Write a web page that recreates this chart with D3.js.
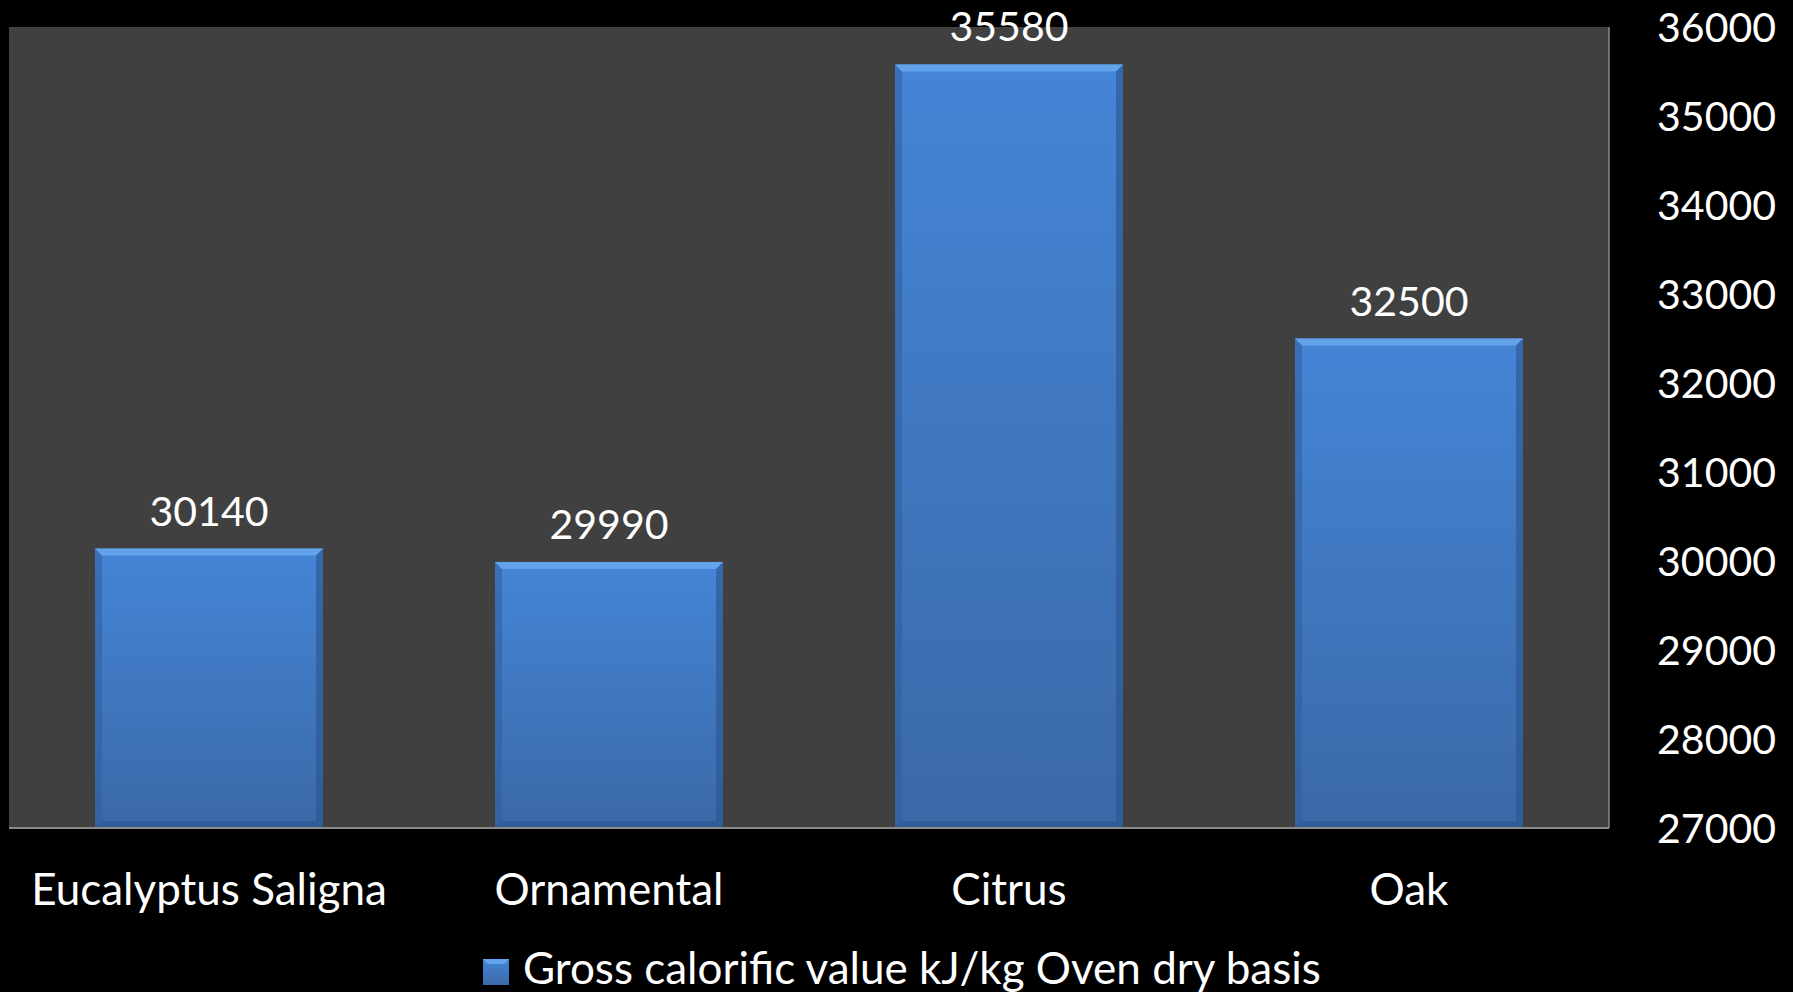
<!DOCTYPE html>
<html>
<head>
<meta charset="utf-8">
<script src="https://cdn.jsdelivr.net/npm/d3@7"></script>
<style>
  html, body { margin: 0; padding: 0; background: #000; }
  svg { display: block; }
  text { font-family: Lato, "Open Sans", sans-serif; fill: #fff; }
</style>
</head>
<body>
<svg id="chart" width="1793" height="992"></svg>
<script>
// Gross calorific value of wood types
const categories = ["Eucalyptus Saligna", "Ornamental", "Citrus", "Oak"];
const values = [30140, 29990, 35580, 32500];
const yTicks = [27000, 28000, 29000, 30000, 31000, 32000, 33000, 34000, 35000, 36000];
const seriesName = "Gross calorific value kJ/kg Oven dry basis";

const plot = { left: 9, top: 27, right: 1609, bottom: 828 };
const numSize = 41;   // numbers: value labels and value axis
const textSize = 44;  // category labels and legend

const svg = d3.select("#chart");

const defs = svg.append("defs");
const grad = defs.append("linearGradient")
  .attr("id", "barFill").attr("x1", 0).attr("y1", 0).attr("x2", 0).attr("y2", 1);
grad.append("stop").attr("offset", "0%").attr("stop-color", "#4585d6");
grad.append("stop").attr("offset", "100%").attr("stop-color", "#3a69a8");

const x = d3.scaleBand()
  .domain(categories)
  .range([plot.left, plot.right])
  .paddingInner(0.43)
  .paddingOuter(0.215);

const y = d3.scaleLinear()
  .domain([27000, 36000])
  .range([plot.bottom, plot.top]);

// plot background
svg.append("rect")
  .attr("x", plot.left).attr("y", plot.top)
  .attr("width", plot.right - plot.left).attr("height", plot.bottom - plot.top)
  .attr("fill", "#404040");

// right border of plot area
svg.append("line")
  .attr("x1", plot.right).attr("x2", plot.right)
  .attr("y1", plot.top).attr("y2", plot.bottom)
  .attr("stroke", "#8a8a8a").attr("stroke-width", 1.5);

// bars with bevelled edges
const bev = 7;
const bars = svg.append("g").selectAll("g")
  .data(categories.map((c, i) => ({ c, v: values[i] })))
  .join("g");

bars.append("rect")
  .attr("x", d => x(d.c))
  .attr("y", d => y(d.v))
  .attr("width", x.bandwidth())
  .attr("height", d => y(27000) - y(d.v))
  .attr("fill", "url(#barFill)");

// left / right darker bevels
bars.append("path")
  .attr("d", d => {
    const x0 = x(d.c), y0 = y(d.v), y1 = y(27000);
    return `M${x0},${y0}L${x0 + bev},${y0 + bev}L${x0 + bev},${y1 - bev}L${x0},${y1}Z`;
  })
  .attr("fill", "#2f5f9e").attr("opacity", 0.55);
bars.append("path")
  .attr("d", d => {
    const x1 = x(d.c) + x.bandwidth(), y0 = y(d.v), y1 = y(27000);
    return `M${x1},${y0}L${x1 - bev},${y0 + bev}L${x1 - bev},${y1 - bev}L${x1},${y1}Z`;
  })
  .attr("fill", "#2a5490").attr("opacity", 0.6);
// bottom bevel
bars.append("path")
  .attr("d", d => {
    const x0 = x(d.c), x1 = x0 + x.bandwidth(), y1 = y(27000);
    return `M${x0},${y1}L${x0 + bev},${y1 - bev}L${x1 - bev},${y1 - bev}L${x1},${y1}Z`;
  })
  .attr("fill", "#2a5490").attr("opacity", 0.6);
// top lighter bevel
bars.append("path")
  .attr("d", d => {
    const x0 = x(d.c), x1 = x0 + x.bandwidth(), y0 = y(d.v);
    return `M${x0},${y0}L${x1},${y0}L${x1 - bev},${y0 + bev}L${x0 + bev},${y0 + bev}Z`;
  })
  .attr("fill", "#62a3ec");

// value labels
bars.append("text")
  .attr("x", d => x(d.c) + x.bandwidth() / 2)
  .attr("y", d => y(d.v) - 23)
  .attr("text-anchor", "middle")
  .attr("font-size", numSize)
  .text(d => d.v);

// bottom axis line
svg.append("line")
  .attr("x1", plot.left).attr("x2", plot.right)
  .attr("y1", plot.bottom).attr("y2", plot.bottom)
  .attr("stroke", "#8a8a8a").attr("stroke-width", 2);

// category axis
const xAxis = svg.append("g")
  .attr("transform", `translate(0,${plot.bottom})`)
  .call(d3.axisBottom(x).tickSize(0).tickPadding(0));
xAxis.select(".domain").remove();
xAxis.selectAll("text")
  .attr("font-size", textSize)
  .attr("font-family", "Lato, 'Open Sans', sans-serif")
  .attr("fill", "#fff")
  .attr("dy", null)
  .attr("y", 77);

// value axis on the right
const yAxis = svg.append("g")
  .attr("transform", `translate(${plot.right},0)`)
  .call(d3.axisRight(y).tickValues(yTicks).tickFormat(d3.format("d")).tickSize(0).tickPadding(0));
yAxis.select(".domain").remove();
yAxis.selectAll("text")
  .attr("font-size", numSize)
  .attr("font-family", "Lato, 'Open Sans', sans-serif")
  .attr("fill", "#fff")
  .attr("text-anchor", "end")
  .attr("x", 1776 - plot.right)
  .attr("dy", "0.35em");

// legend
const legend = svg.append("g").attr("transform", "translate(483,959)");
legend.append("rect")
  .attr("x", 0).attr("y", 0).attr("width", 26).attr("height", 26)
  .attr("fill", "url(#barFill)");
legend.append("path")
  .attr("d", "M0,0L26,0L21,5L5,5Z").attr("fill", "#62a3ec");
legend.append("text")
  .attr("x", 40).attr("y", 25)
  .attr("font-size", textSize)
  .text(seriesName);
</script>
</body>
</html>
